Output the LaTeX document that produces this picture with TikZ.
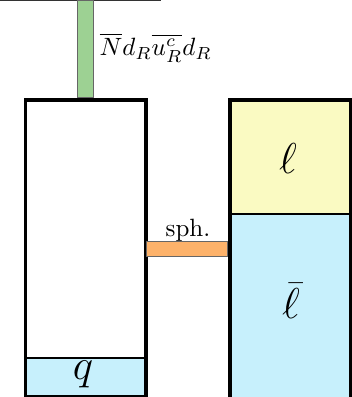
\documentclass[tikz,border=0pt]{standalone}
\usepackage{xcolor}
\definecolor{grn}{HTML}{9DD193}
\definecolor{org}{HTML}{FDB26A}
\definecolor{ylw}{HTML}{FAFAC2}
\definecolor{lblu}{HTML}{C7F0FC}
\begin{document}
\begin{tikzpicture}[x=0.4pt,y=-0.4pt,
  region/.style={rectangle,inner sep=0pt,anchor=north west,draw=black,line width=0.75pt},
  frame/.style={rectangle,inner sep=0pt,anchor=north west,draw=black,line width=1.4pt},
  bar/.style={rectangle,inner sep=0pt,anchor=north west,draw=black!60,line width=0.35pt},
  lbl/.style={inner sep=0pt}]
\useasboundingbox (0,0) rectangle (351,397);
% top line
\coordinate (tl) at (0,0.5);
\coordinate (tr) at (161,0.5);
\draw[line width=0.8pt,black!80] (tl) -- (tr);
% green bar
\node[bar,fill=grn,minimum width=6.2pt,minimum height=39pt] (gbar) at (77,0) {};
% left box
\node[region,fill=lblu,minimum width=48.2pt,minimum height=15pt] (qbox) at (23.5,357) {};
\node[frame,minimum width=48.2pt,minimum height=118.4pt] (lbox) at (23.5,98.5) {};
% right box
\node[region,fill=ylw,minimum width=48.4pt,minimum height=45.8pt] (ybox) at (228,98.5) {};
\node[region,fill=lblu,minimum width=48.4pt,minimum height=76pt] (bbox) at (228,213) {};
\node[frame,minimum width=48.4pt,minimum height=121pt] (rbox) at (228,98.5) {};
% orange bar
\node[bar,fill=org,minimum width=32.4pt,minimum height=5.8pt] (obar) at (145.5,241.5) {};
% labels
\node[lbl,anchor=west] (nlab) at (99,48) {$\overline{N} d_R \overline{u^c_R} d_R$};
\node[lbl] (sph) at (188,230) {sph.};
\node[lbl] (ell) at (288,159) {\fontsize{17}{17}\selectfont$\ell$};
\node[lbl] (ellb) at (291,301) {\fontsize{17}{17}\selectfont$\bar{\ell}$};
\node[lbl] (q) at (83,374) {\fontsize{19}{19}\selectfont$q$};
\end{tikzpicture}
\end{document}
